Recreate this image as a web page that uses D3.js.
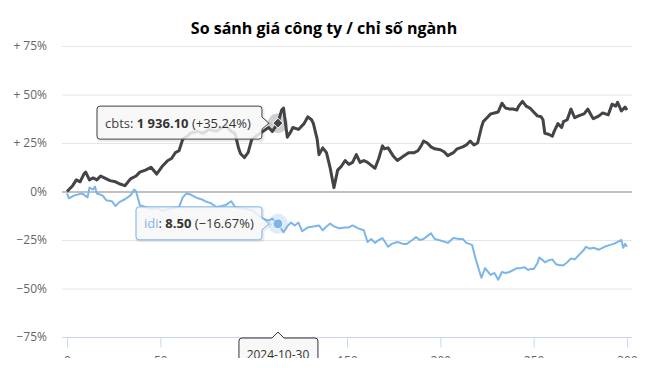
<!DOCTYPE html>
<html>
<head>
<meta charset="utf-8">
<script src="https://cdn.jsdelivr.net/npm/d3@7"></script>
<style>
  html, body { margin: 0; padding: 0; background: #fff; overflow: hidden; }
  svg { display: block; font-family: "Open Sans", sans-serif; }
</style>
</head>
<body>
<script>
const width = 648;
const height = 358;

const title = 'So sánh giá công ty / chỉ số ngành';

// [day index, % change vs first day]
const cbts = [
  [0,0],[3,3],[5,6],[7,5],[9,9],[10,10],[12,6],[14,7],[16,6],[18,8],[20,7],[23,5.6],[26,5],[28,4],
  [31,3],[34,6.5],[37,8],[39,10],[42,11],[45,12.5],[48,9],[51,13],[54,16],[56,17],[58,20],[60,21],
  [62,27],[65,29],[66,30],[70,31],[73,30],[76,32],[80,31],[83,33],[85,34],[88,31],[90,30],[92,22],
  [93,19.5],[95,17.5],[97,20],[99,27],[102,29],[105,31],[108,33],[110,31],[113,35.24],[115,42],
  [116,43],[118,28],[120,31],[121,33],[124,32],[127,35],[129,38.5],[131,37],[132,35],[134,27],
  [135,19],[137,22.5],[139,20],[141,12],[143,2],[145,11],[147,13],[149,16],[151,14],[153,15],
  [155,19],[157,15],[159,16],[161,15],[163,13.5],[165,12],[167,17],[169,23.5],[170,22],[172,22.5],
  [175,18],[177,16],[180,18],[183,20],[186,20],[188,21],[190,24],[191,26],[193,25],[195,23],
  [197,22],[200,21.5],[202,20.5],[204,18.5],[207,20],[209,22],[212,23],[214,24],[216,26],[218,24],
  [220,25],[222,33],[223,36],[225,38],[227,40],[229,40.5],[231,41],[233,45.5],[235,43],[237,42.5],
  [239,42.5],[241,42],[242,44],[244,46.5],[246,44],[248,43],[250,41],[252,39],[254,38.5],[255,37],
  [256,30],[258,29.5],[260,28.5],[261,31],[263,35],[265,33],[266,36],[268,37],[270,42.5],[272,38],
  [274,39],[277,40],[279,42.5],[281,39],[282,37.5],[285,39],[287,40.5],[290,39.5],[292,45],[294,44],
  [295,46],[297,41.5],[299,43.5],[300,42]
];

const idi = [
  [0,-1],[1,-3.5],[4,-2],[8,-1],[11,-3],[12,2],[14,1],[15,2.5],[16,-1],[19,-2],[21,-4.5],[24,-5],
  [26,-7.5],[28,-5.5],[31,-4],[34,-2],[36,1],[37,0],[39,-7],[42,-8],[45,-9],[48,-8.5],[51,-10],
  [54,-9],[57,-8.5],[60,-8],[62,-3],[64,-1],[66,-1.5],[68,-2.5],[70,-3.5],[72,-4],[74,-5],[77,-6],
  [80,-8],[83,-7.5],[85,-7],[88,-5],[90,-8],[93,-8.5],[96,-9],[100,-10],[102,-12],[105,-14],
  [108,-15],[110,-14],[113,-16.67],[116,-21],[118,-18],[120,-16],[122,-17.5],[124,-16],[126,-20.5],
  [129,-18.5],[132,-18],[135,-17.5],[137,-20],[139,-18],[141,-16.5],[143,-18],[146,-19],[149,-18.5],
  [151,-18.5],[153,-17.5],[156,-19],[159,-20],[161,-26],[163,-24.5],[165,-26.5],[167,-25],[169,-24],
  [172,-28.5],[174,-27],[177,-26],[180,-27],[182,-27],[185,-25],[187,-23.5],[189,-25],[191,-24.5],
  [193,-23],[195,-21.5],[197,-24.5],[199,-25],[201,-25.5],[204,-26.5],[207,-24],[210,-24.5],
  [212,-24.5],[214,-26.5],[217,-27.5],[219,-35],[222,-44.5],[224,-39.5],[226,-42],[227,-43],
  [229,-42],[231,-45.5],[233,-41.5],[235,-42],[237,-41.5],[239,-40.5],[241,-39.5],[243,-39.5],
  [245,-39],[247,-40.5],[248,-40],[250,-40],[252,-37],[253,-34],[255,-35.5],[256,-36.5],[258,-35.5],
  [260,-35],[262,-37.5],[264,-38],[266,-38],[268,-36.5],[270,-34.5],[272,-35],[275,-32],[277,-30],
  [278,-28.5],[280,-29.5],[282,-29],[285,-30],[288,-28.5],[291,-27.5],[293,-27],[295,-26],[297,-25],
  [298,-29],[299,-27],[300,-28.5]
];

const yTicks = [-75, -50, -25, 0, 25, 50, 75];
const yTickLabels = ['−75%', '−50%', '−25%', '0%', '+ 25%', '+ 50%', '+ 75%'];
const xTicks = [0, 50, 100, 150, 200, 250, 300];

// hovered point
const hoverIndex = 113;
const hoverDate = '2024-10-30';
const tipCbts = { name: 'cbts', value: '1 936.10', change: '(+35.24%)', color: '#434348' };
const tipIdi = { name: 'idi', value: '8.50', change: '(−16.67%)', color: '#7cb5ec' };

const plot = { left: 62, right: 632, top: 46, bottom: 337 };

const x = d3.scaleLinear().domain([-2.7, 302.7]).range([plot.left, plot.right]);
const y = d3.scaleLinear().domain([-75, 75]).range([plot.bottom, plot.top]);

const svg = d3.select('body').append('svg')
  .attr('width', width)
  .attr('height', height);

svg.append('text')
  .attr('x', width / 2)
  .attr('y', 34)
  .attr('text-anchor', 'middle')
  .attr('font-size', 16)
  .attr('font-weight', 'bold')
  .attr('fill', '#000')
  .text(title);

// grid
svg.append('g').selectAll('line')
  .data(yTicks.filter(d => d !== -75))
  .join('line')
  .attr('x1', plot.left).attr('x2', plot.right)
  .attr('y1', d => y(d) + 0.5).attr('y2', d => y(d) + 0.5)
  .attr('stroke', '#e6e6e6');

// y labels
svg.append('g').selectAll('text')
  .data(yTicks)
  .join('text')
  .attr('x', 47)
  .attr('y', d => y(d) + 4)
  .attr('text-anchor', 'end')
  .attr('font-size', 12)
  .attr('fill', '#666')
  .text((d, i) => yTickLabels[i]);

// x axis
const xAxis = svg.append('g')
  .attr('transform', `translate(0,${plot.bottom + 0.5})`)
  .call(d3.axisBottom(x).tickValues(xTicks).tickSize(10).tickPadding(9));
xAxis.select('.domain').attr('stroke', '#ccd6eb').attr('d', `M${plot.left},0H${plot.right}`);
xAxis.selectAll('.tick line').attr('stroke', '#ccd6eb');
xAxis.selectAll('.tick text')
  .attr('font-family', '"Open Sans", sans-serif')
  .attr('font-size', 12)
  .attr('fill', '#666');

// zero plot line
svg.append('line')
  .attr('x1', plot.left).attr('x2', plot.right)
  .attr('y1', y(0) + 0.5).attr('y2', y(0) + 0.5)
  .attr('stroke', '#c0c0c0')
  .attr('stroke-width', 2);

const line = d3.line().x(d => x(d[0])).y(d => y(d[1]));

svg.append('path')
  .datum(idi)
  .attr('d', line)
  .attr('fill', 'none')
  .attr('stroke', '#7cb5ec')
  .attr('stroke-width', 2)
  .attr('stroke-linejoin', 'round');

svg.append('path')
  .datum(cbts)
  .attr('d', line)
  .attr('fill', 'none')
  .attr('stroke', '#434348')
  .attr('stroke-width', 3)
  .attr('stroke-linejoin', 'round');

// hover markers
const hx = x(hoverIndex);
const cbtsPt = cbts.find(d => d[0] === hoverIndex);
const idiPt = idi.find(d => d[0] === hoverIndex);

svg.append('circle').attr('cx', hx).attr('cy', y(cbtsPt[1])).attr('r', 10)
  .attr('fill', '#434348').attr('fill-opacity', 0.25);
svg.append('path')
  .attr('d', `M${hx},${y(cbtsPt[1]) - 5}L${hx + 5},${y(cbtsPt[1])}L${hx},${y(cbtsPt[1]) + 5}L${hx - 5},${y(cbtsPt[1])}Z`)
  .attr('fill', '#434348').attr('stroke', '#fff').attr('stroke-width', 1);

svg.append('circle').attr('cx', hx).attr('cy', y(idiPt[1])).attr('r', 10)
  .attr('fill', '#7cb5ec').attr('fill-opacity', 0.25);
svg.append('circle').attr('cx', hx).attr('cy', y(idiPt[1])).attr('r', 5)
  .attr('fill', '#7cb5ec').attr('stroke', '#fff').attr('stroke-width', 1);

// split tooltips
function sideTip(info, cy, left) {
  const right = hx - 16;
  const top = cy - 17, bottom = cy + 16, r = 3;
  const tipX = hx - 9;
  const d = `M${left + r},${top}H${right - r}Q${right},${top} ${right},${top + r}` +
    `V${cy - 6}L${tipX},${cy}L${right},${cy + 6}V${bottom - r}` +
    `Q${right},${bottom} ${right - r},${bottom}H${left + r}Q${left},${bottom} ${left},${bottom - r}` +
    `V${top + r}Q${left},${top} ${left + r},${top}Z`;
  const g = svg.append('g');
  g.append('path').attr('d', d).attr('transform', 'translate(1,1)')
    .attr('fill', 'none').attr('stroke', '#000').attr('stroke-opacity', 0.08).attr('stroke-width', 3);
  g.append('path').attr('d', d)
    .attr('fill', 'rgba(247,247,247,0.85)')
    .attr('stroke', info.color).attr('stroke-width', 1);
  const t = g.append('text')
    .attr('x', left + 8)
    .attr('y', cy + 4.5)
    .attr('font-size', 13)
    .attr('fill', '#333');
  t.append('tspan').attr('fill', info.color).text(info.name);
  t.append('tspan').text(': ');
  t.append('tspan').attr('font-weight', 'bold').text(info.value);
  t.append('tspan').text(' ' + info.change);
}

sideTip(tipCbts, y(cbtsPt[1]), 97);
sideTip(tipIdi, y(idiPt[1]), 136);

// date header tooltip
const hg = svg.append('g');
const hTop = 338, hl = hx - 39, hr = hx + 40;
hg.append('path')
  .attr('d', `M${hl + 3},${hTop}H${hx - 6}L${hx},${hTop - 6}L${hx + 6},${hTop}H${hr - 3}` +
    `Q${hr},${hTop} ${hr},${hTop + 3}V${hTop + 30}H${hl}V${hTop + 3}Q${hl},${hTop} ${hl + 3},${hTop}Z`)
  .attr('fill', 'rgba(247,247,247,0.92)')
  .attr('stroke', '#333')
  .attr('stroke-width', 1);
hg.append('text')
  .attr('x', hx)
  .attr('y', 359)
  .attr('text-anchor', 'middle')
  .attr('font-size', 12)
  .attr('fill', '#333')
  .text(hoverDate);
</script>
</body>
</html>
